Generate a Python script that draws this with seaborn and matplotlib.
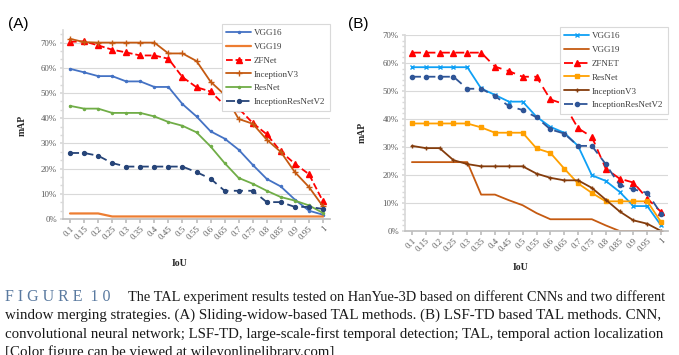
import matplotlib
matplotlib.use('Agg')
import matplotlib.pyplot as plt
import seaborn as sns
from matplotlib.ticker import MultipleLocator, PercentFormatter

iou = [0.1, 0.15, 0.2, 0.25, 0.3, 0.35, 0.4, 0.45, 0.5, 0.55,
       0.6, 0.65, 0.7, 0.75, 0.8, 0.85, 0.9, 0.95, 1.0]
iou_labels = ['0.1', '0.15', '0.2', '0.25', '0.3', '0.35', '0.4', '0.45', '0.5', '0.55',
              '0.6', '0.65', '0.7', '0.75', '0.8', '0.85', '0.9', '0.95', '1']

# (A) sliding-window based TAL, mAP in %
a_vgg16 = [59.6, 58.2, 56.7, 56.7, 54.6, 54.6, 52.4, 52.4, 45.6, 40.7,
           34.8, 31.9, 27.5, 21.5, 15.9, 12.9, 7.7, 3.3, 1.7]
a_vgg19 = [2.2, 2.2, 2.2, 1.0, 1.0, 1.0, 1.0, 1.0, 1.0, 1.0,
           1.0, 1.0, 1.0, 1.0, 1.0, 1.0, 1.0, 1.0, 1.0]
a_zfnet = [70.3, 70.5, 68.9, 67.2, 66.1, 64.9, 64.9, 63.6, 56.3, 52.3,
           50.6, 45.2, 43.9, 38.1, 33.6, 26.8, 21.9, 17.8, 7.0]
a_incv3 = [71.5, 70.2, 70.0, 70.0, 70.0, 70.0, 70.0, 65.7, 65.7, 62.7,
           54.5, 49.3, 39.7, 37.8, 31.5, 26.6, 18.6, 12.7, 5.0]
a_resnet = [44.9, 43.8, 43.8, 42.1, 42.1, 42.1, 40.7, 38.5, 37.0, 34.4,
            28.8, 22.2, 16.3, 14.0, 11.2, 8.7, 7.3, 5.4, 2.4]
a_irv2 = [26.2, 26.2, 25.1, 22.2, 20.8, 20.8, 20.8, 20.8, 20.8, 18.6,
          16.0, 11.2, 11.2, 11.2, 6.7, 6.7, 4.8, 4.8, 4.0]

# (B) LSF-TD based TAL, mAP in %
b_vgg16 = [58.5, 58.5, 58.5, 58.5, 58.5, 50.9, 48.6, 46.2, 46.2, 40.8,
           37.2, 35.1, 30.4, 19.9, 17.9, 14.0, 8.9, 8.9, 2.0]
b_vgg19 = [24.6, 24.6, 24.6, 24.6, 24.6, 13.0, 13.0, 11.0, 9.2, 6.4,
           4.2, 4.2, 4.2, 4.2, 2.0, 0.0, 0.0, 0.0, 0.0]
b_zfnet = [63.7, 63.7, 63.7, 63.7, 63.7, 63.7, 58.7, 57.1, 55.1, 55.1,
           47.0, 45.3, 36.7, 33.6, 22.3, 18.7, 17.3, 11.6, 6.8]
b_resnet = [38.4, 38.4, 38.4, 38.4, 38.4, 37.0, 35.1, 35.1, 35.1, 29.5,
            27.9, 22.3, 17.0, 13.6, 10.6, 10.6, 10.6, 10.6, 3.2]
b_incv3 = [30.4, 29.6, 29.6, 25.3, 23.9, 23.1, 23.1, 23.1, 23.1, 20.5,
           19.0, 18.1, 18.1, 15.4, 11.2, 7.0, 3.8, 2.6, 0.0]
b_irv2 = [55.1, 55.1, 55.1, 55.1, 50.8, 50.8, 48.2, 44.6, 43.2, 40.6,
          36.3, 34.8, 30.4, 30.4, 23.9, 16.4, 14.9, 13.6, 6.2]

W, H = 679, 355
sns.set_theme(style='white')
plt.rcParams['font.family'] = ['Liberation Serif', 'DejaVu Serif']

fig = plt.figure(figsize=(W / 100, H / 100), dpi=100)


def px_rect(x0, y0, x1, y1):
    return [x0 / W, 1 - y1 / H, (x1 - x0) / W, (y1 - y0) / H]


def draw_line(ax, y, label, color, marker=None, ls='-', ms=3.0, lw=1.3):
    kw = dict(color=color, linewidth=lw, linestyle=ls, label=label)
    if marker:
        kw.update(marker=marker, markersize=ms, markeredgecolor=color,
                  markerfacecolor=color, markeredgewidth=1.0)
    sns.lineplot(x=iou, y=y, ax=ax, **kw)


def style_axes(ax, ymax, minor):
    ax.set_xlim(0.075, 1.025)
    ax.set_ylim(0, ymax)
    ax.set_xticks(iou)
    ax.set_xticklabels(iou_labels, rotation=45, ha='right', rotation_mode='anchor')
    ax.yaxis.set_major_locator(MultipleLocator(10))
    ax.yaxis.set_minor_locator(MultipleLocator(minor))
    ax.yaxis.set_major_formatter(PercentFormatter(100, decimals=0))
    ax.grid(axis='y', which='major', color='#D9D9D9', linewidth=0.8)
    ax.set_axisbelow(True)
    for s in ['top', 'right']:
        ax.spines[s].set_visible(False)
    ax.spines['left'].set_color('#D9D9D9')
    ax.spines['bottom'].set_color('#BFBFBF')
    ax.tick_params(axis='both', which='both', labelsize=6.3, colors='#595959',
                   direction='out', left=True, bottom=True)
    ax.tick_params(axis='y', which='both', color='#D9D9D9', length=2.5, pad=2)
    ax.tick_params(axis='x', color='#BFBFBF', length=3, pad=1)
    ax.set_xlabel('')
    ax.set_ylabel('')


def legend(ax, x1, y0):
    leg = ax.legend(loc='upper right', bbox_to_anchor=(x1 / W, 1 - y0 / H),
                    bbox_transform=fig.transFigure, fontsize=6.5, frameon=True,
                    fancybox=False, framealpha=1, edgecolor='#D9D9D9',
                    handlelength=2.8, handletextpad=0.3, labelspacing=0.62,
                    borderpad=0.5, borderaxespad=0)
    leg.get_frame().set_linewidth(0.8)
    for t in leg.get_texts():
        t.set_color('#404040')


# panel A
axA = fig.add_axes(px_rect(63, 30, 330, 219))
draw_line(axA, a_vgg16, 'VGG16', '#4472C4', marker='.', ms=3)
draw_line(axA, a_vgg19, 'VGG19', '#ED7D31', lw=1.6)
draw_line(axA, a_zfnet, 'ZFNet', '#FF0000', marker='^', ls='--', ms=4.5)
draw_line(axA, a_incv3, 'InceptionV3', '#C55A11', marker='+', ms=4)
draw_line(axA, a_resnet, 'ResNet', '#70AD47', marker='.', ms=3)
draw_line(axA, a_irv2, 'InceptionResNetV2', '#264478', marker='o', ls=(0, (5, 3)), ms=2.8)
style_axes(axA, 75, 10 / 3)
legend(axA, 330, 24)

# panel B
axB = fig.add_axes(px_rect(405, 35, 668, 231))
draw_line(axB, b_vgg16, 'VGG16', '#0FA0F5', marker='x', ms=3)
draw_line(axB, b_vgg19, 'VGG19', '#C55A11', lw=1.3)
draw_line(axB, b_zfnet, 'ZFNET', '#FF0000', marker='^', ls=(0, (5, 3)), ms=4)
draw_line(axB, b_resnet, 'ResNet', '#FFA000', marker='s', ms=3.2)
draw_line(axB, b_incv3, 'InceptionV3', '#843C0C', marker='+', ms=3.5)
draw_line(axB, b_irv2, 'InceptionResNetV2', '#2F5597', marker='o', ls=(0, (5, 3)), ms=3)
style_axes(axB, 70, 2)
legend(axB, 668, 27)

# labels
for x, y, s in [(22, 125, 'mAP'), (362, 132, 'mAP')]:
    fig.text(x / W, 1 - y / H, s, rotation=90, ha='center', va='center',
             fontsize=7, fontweight='bold', color='#262626')
for x, y, s in [(180, 263, 'IoU'), (521, 267, 'IoU')]:
    fig.text(x / W, 1 - y / H, s, ha='center', va='center',
             fontsize=7, fontweight='bold', color='#262626')
for x, s in [(8, '(A)'), (348, '(B)')]:
    fig.text(x / W, 1 - 24 / H, s, ha='left', va='center', fontsize=11,
             family=['Liberation Sans', 'DejaVu Sans'], color='#000000')

# caption
cap_lines = [
    'The TAL experiment results tested on HanYue-3D based on different CNNs and two different',
    'window merging strategies. (A) Sliding-widow-based TAL methods. (B) LSF-TD based TAL methods. CNN,',
    'convolutional neural network; LSF-TD, large-scale-first temporal detection; TAL, temporal action localization',
    '[Color figure can be viewed at wileyonlinelibrary.com]',
]
cap_sizes = [10.4, 10.8, 10.7, 10.7]
fig.text(5 / W, 1 - 301 / H, 'F I G U R E  1 0', ha='left', va='baseline',
         fontsize=11.5, color='#5A7AA0')
fig.text(128 / W, 1 - 301 / H, cap_lines[0], ha='left', va='baseline',
         fontsize=cap_sizes[0], color='#1A1A1A')
for i, line in enumerate(cap_lines[1:]):
    fig.text(5 / W, 1 - (319.3 + 18.3 * i) / H, line, ha='left', va='baseline',
             fontsize=cap_sizes[i + 1], color='#1A1A1A')

fig.savefig('out.png', dpi=100)
